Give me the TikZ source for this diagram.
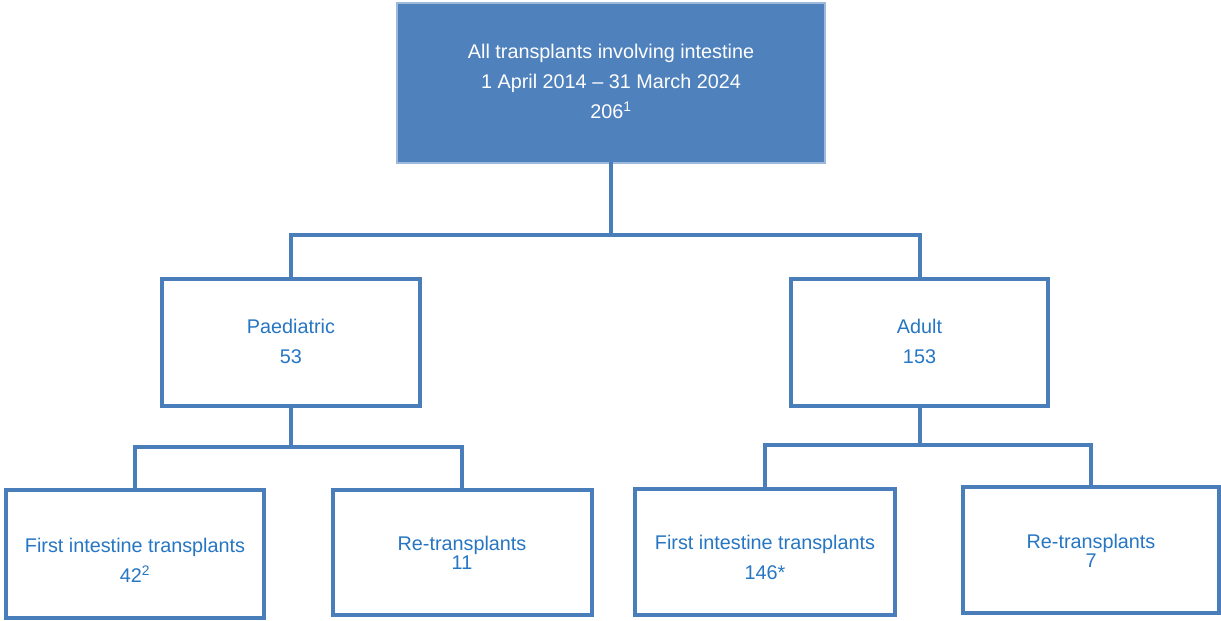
\documentclass[tikz,border=0pt]{standalone}
\usepackage{fontspec}
\setmainfont{Liberation Sans}
\usetikzlibrary{calc}
\definecolor{boxblue}{RGB}{79,129,189}
\definecolor{edgeblue}{RGB}{74,126,187}
\definecolor{txtblue}{RGB}{38,118,196}
\begin{document}
\begin{tikzpicture}[x=0.75pt,y=-0.75pt,
  every node/.style={font=\fontsize{14.85}{22.5}\selectfont, align=center, inner sep=0pt},
  topbox/.style={rectangle, fill=boxblue, draw=boxblue!55!white, line width=0.8pt, text=white},
  catbox/.style={rectangle, draw=edgeblue, line width=3pt, fill=white, text=txtblue},
  link/.style={draw=edgeblue, line width=3pt, line cap=rect}]
\useasboundingbox (0,0) rectangle (1221,621);
\fill[white] (0,0) rectangle (1221,621);

% junction points
\coordinate (j1) at (613,235);
\coordinate (j2) at (291,447);
\coordinate (j3) at (919,445);

% nodes
\node[topbox, minimum width=428*0.75pt, minimum height=160*0.75pt] (top) at (611,83) {};
\node[text=white] (toptxt) at (611,81) {All transplants involving intestine\\1 April 2014 -- 31 March 2024\\206\textsuperscript{1}};

\node[catbox, minimum width=258*0.75pt, minimum height=127*0.75pt] (P) at (291,342.5) {};
\node[catbox, minimum width=257*0.75pt, minimum height=127*0.75pt] (A) at (919.5,342.5) {};
\node[catbox, minimum width=258*0.75pt, minimum height=128*0.75pt] (PF) at (135,554) {};
\node[catbox, minimum width=259*0.75pt, minimum height=125*0.75pt] (PR) at (462,552.5) {};
\node[catbox, minimum width=260*0.75pt, minimum height=126*0.75pt] (AF) at (765,552) {};
\node[catbox, minimum width=256*0.75pt, minimum height=126*0.75pt] (AR) at (1091,550) {};

% connectors
\draw[link] (top.south) -- (top.south |- j1);
\draw[link] (P.north) |- (j1) -| (A.north);
\draw[link] (P.south) -- (j2);
\draw[link] (PF.north) |- (j2) -| (PR.north);
\draw[link] (A.south) -- (A.south |- j3);
\draw[link] (AF.north) |- (j3) -| (AR.north);

% redraw boxes over connector ends
\node[catbox, minimum width=258*0.75pt, minimum height=127*0.75pt] at (P) {};
\node[catbox, minimum width=257*0.75pt, minimum height=127*0.75pt] at (A) {};
\node[catbox, minimum width=258*0.75pt, minimum height=128*0.75pt] at (PF) {};
\node[catbox, minimum width=259*0.75pt, minimum height=125*0.75pt] at (PR) {};
\node[catbox, minimum width=260*0.75pt, minimum height=126*0.75pt] at (AF) {};
\node[catbox, minimum width=256*0.75pt, minimum height=126*0.75pt] at (AR) {};

% labels
\node[text=txtblue] (Ptxt) at (291,341) {Paediatric\\53};
\node[text=txtblue] (Atxt) at (919.5,341) {Adult\\153};
\node[text=txtblue] (PFtxt) at (135,560) {First intestine transplants\\42\textsuperscript{2}};
\node[text=txtblue] (PRtxt) at (462,553) {Re-transplants\\[-8pt]11};
\node[text=txtblue] (AFtxt) at (765,557) {First intestine transplants\\146*};
\node[text=txtblue] (ARtxt) at (1091,551) {Re-transplants\\[-8pt]7};
\end{tikzpicture}
\end{document}
